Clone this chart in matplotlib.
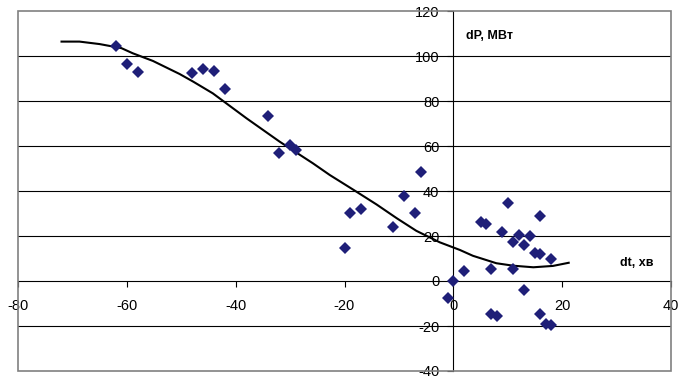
import matplotlib.pyplot as plt
from matplotlib.patches import Rectangle

plt.rcParams['font.family'] = ['Liberation Sans', 'DejaVu Sans']
plt.rcParams['axes.unicode_minus'] = False

# measured points (dt, min ; dP, MW)
dt_pts = [-62, -60, -58, -48, -46, -44, -42, -34, -32, -30, -29,
          -20, -19, -17, -11, -9, -7, -6, -1, 0, 2,
          5, 6, 7, 7, 8, 9, 10, 11, 11, 12, 13, 13, 14, 15,
          16, 16, 16, 17, 18, 18]
dp_pts = [104.6, 96.4, 92.9, 92.3, 94.2, 93.3, 85.2, 73.2, 57.0, 60.4, 58.2,
          14.7, 30.2, 32.1, 24.1, 37.9, 30.4, 48.3, -7.7, 0, 4.6,
          26.3, 25.3, 5.5, -14.7, -15.6, 21.7, 34.8, 5.2, 17.2, 20.5, -4.0, 16.2, 19.8, 12.6,
          28.8, -14.7, 12.0, -19.3, -19.6, 9.9]

# trend line
curve_x = [-72, -68.7, -65, -61, -58.9, -55.2, -50.3, -47.8, -44.2, -38, -31.9,
           -25.8, -22.7, -18.4, -14.1, -10.4, -6.8, -2.5, 1.2, 3.6, 7.9, 11,
           14.7, 18.3, 21.2]
curve_y = [106.4, 106.4, 105.3, 103.5, 101.2, 97.8, 92.0, 88.6, 83.4, 72.3, 61.9,
           52.3, 47.1, 40.6, 34.0, 27.9, 22.3, 17.2, 13.8, 11.2, 7.9, 6.8,
           6.1, 6.7, 8.1]

x_ticks = [-80, -60, -40, -20, 0, 20, 40]
y_ticks = [-40, -20, 0, 20, 40, 60, 80, 100, 120]

fig = plt.figure(figsize=(6.79, 3.78), dpi=100)
ax = fig.add_axes([18 / 679, 7 / 378, 653 / 679, 360 / 378])
ax.set_xlim(-80, 40)
ax.set_ylim(-40, 120)

for y in y_ticks[1:-1]:
    if y != 0:
        ax.axhline(y, color='black', lw=0.8, zorder=1)

ax.plot(curve_x, curve_y, color='black', lw=1.5, zorder=3)
ax.plot(dt_pts, dp_pts, linestyle='none', marker='D', markersize=5.8,
        color='#1f1f78', markeredgewidth=0, zorder=4)

ax.spines['left'].set_position(('data', 0))
ax.spines['bottom'].set_position(('data', 0))
ax.spines['right'].set_visible(False)
ax.spines['top'].set_visible(False)
for s in ('left', 'bottom'):
    ax.spines[s].set_linewidth(0.8)
    ax.spines[s].set_zorder(2)
ax.add_patch(Rectangle((0, 0), 1, 1, transform=ax.transAxes, fill=False,
                       edgecolor='#808080', lw=1.2, zorder=5, clip_on=False))

ax.set_xticks(x_ticks)
ax.set_yticks(y_ticks)
ax.tick_params(axis='x', direction='out', length=4, width=0.8, pad=9, labelsize=10.5)
ax.tick_params(axis='y', direction='out', length=4, width=0.8, pad=6, labelsize=10.5)

ax.text(2.4, 109, 'dP, МВт', fontsize=9, fontweight='bold', va='center', ha='left')
ax.text(30.6, 8, 'dt, хв', fontsize=9, fontweight='bold', va='center', ha='left')

fig.savefig('out.png', dpi=100)
